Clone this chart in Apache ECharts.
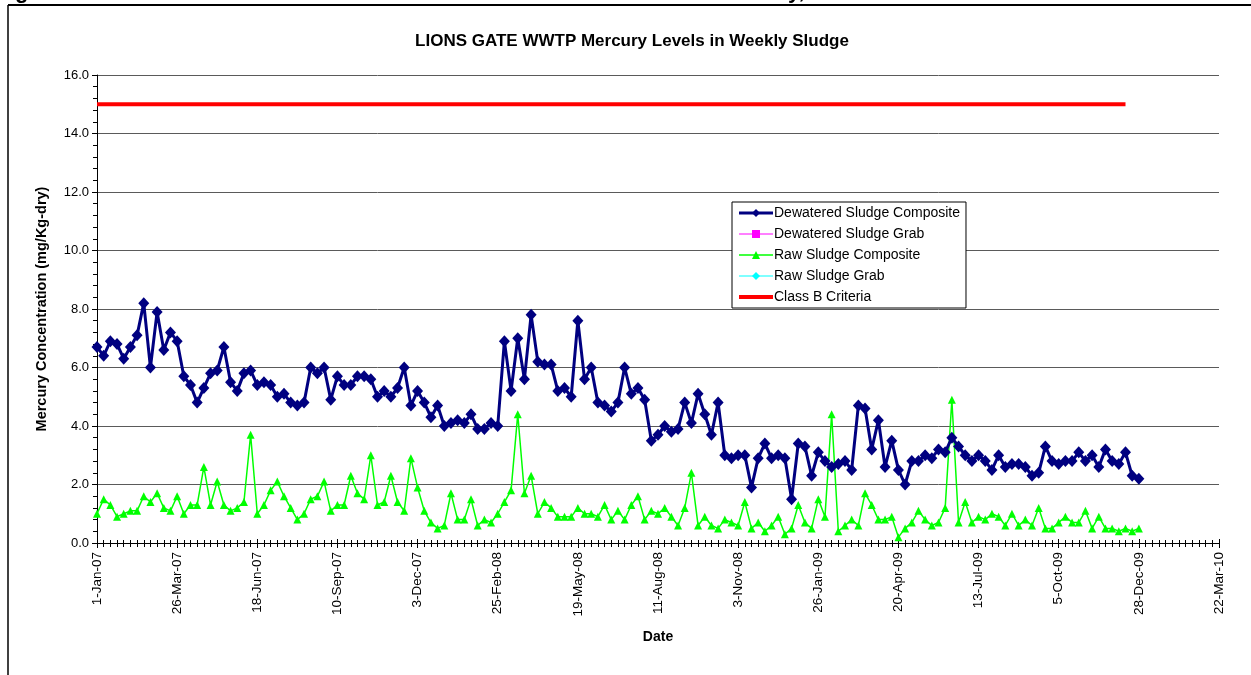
<!DOCTYPE html>
<html>
<head>
<meta charset="utf-8">
<script src="https://cdn.jsdelivr.net/npm/echarts@6/dist/echarts.min.js"></script>
<style>html,body{margin:0;padding:0;background:#fff;}#c{width:1251px;height:675px;}</style>
</head>
<body>
<div id="c"></div>
<script>
// Weekly samples starting 1-Jan-07 (one value per week)
var startDate = '2007-01-01';
var dewateredComposite = [6.7,6.4,6.9,6.8,6.3,6.7,7.1,8.2,6.0,7.9, 6.6,7.2,6.9,5.7,5.4,4.8,5.3,5.8,5.9,6.7,
  5.5,5.2,5.8,5.9,5.4,5.5,5.4,5.0,5.1,4.8, 4.7,4.8,6.0,5.8,6.0,4.9,5.7,5.4,5.4,5.7,
  5.7,5.6,5.0,5.2,5.0,5.3,6.0,4.7,5.2,4.8, 4.3,4.7,4.0,4.1,4.2,4.1,4.4,3.9,3.9,4.1,
  4.0,6.9,5.2,7.0,5.6,7.8,6.2,6.1,6.1,5.2, 5.3,5.0,7.6,5.6,6.0,4.8,4.7,4.5,4.8,6.0,
  5.1,5.3,4.9,3.5,3.7,4.0,3.8,3.9,4.8,4.1, 5.1,4.4,3.7,4.8,3.0,2.9,3.0,3.0,1.9,2.9,
  3.4,2.9,3.0,2.9,1.5,3.4,3.3,2.3,3.1,2.8, 2.6,2.7,2.8,2.5,4.7,4.6,3.2,4.2,2.6,3.5,
  2.5,2.0,2.8,2.8,3.0,2.9,3.2,3.1,3.6,3.3, 3.0,2.8,3.0,2.8,2.5,3.0,2.6,2.7,2.7,2.6,
  2.3,2.4,3.3,2.8,2.7,2.8,2.8,3.1,2.8,3.0, 2.6,3.2,2.8,2.7,3.1,2.3,2.2];
var rawComposite = [1.0,1.5,1.3,0.9,1.0,1.1,1.1,1.6,1.4,1.7, 1.2,1.1,1.6,1.0,1.3,1.3,2.6,1.3,2.1,1.3,
  1.1,1.2,1.4,3.7,1.0,1.3,1.8,2.1,1.6,1.2, 0.8,1.0,1.5,1.6,2.1,1.1,1.3,1.3,2.3,1.7,
  1.5,3.0,1.3,1.4,2.3,1.4,1.1,2.9,1.9,1.1, 0.7,0.5,0.6,1.7,0.8,0.8,1.5,0.6,0.8,0.7,
  1.0,1.4,1.8,4.4,1.7,2.3,1.0,1.4,1.2,0.9, 0.9,0.9,1.2,1.0,1.0,0.9,1.3,0.8,1.1,0.8,
  1.3,1.6,0.8,1.1,1.0,1.2,0.9,0.6,1.2,2.4, 0.6,0.9,0.6,0.5,0.8,0.7,0.6,1.4,0.5,0.7,
  0.4,0.6,0.9,0.3,0.5,1.3,0.7,0.5,1.5,0.9, 4.4,0.4,0.6,0.8,0.6,1.7,1.3,0.8,0.8,0.9,
  0.2,0.5,0.7,1.1,0.8,0.6,0.7,1.2,4.9,0.7, 1.4,0.7,0.9,0.8,1.0,0.9,0.6,1.0,0.6,0.8,
  0.6,1.2,0.5,0.5,0.7,0.9,0.7,0.7,1.1,0.5, 0.9,0.5,0.5,0.4,0.5,0.4,0.5];
var dewateredGrab = [];
var rawGrab = [];
var classBDates = ['2007-01-01', '2009-12-14'];
var classBValues = [15, 15];
var xTickStart = '2007-01-01', xTickEnd = '2010-03-22', xTickDays = 84;
var yTicks = [0, 2, 4, 6, 8, 10, 12, 14, 16];

var DAY = 86400000;
var t0 = Date.parse(startDate + 'T00:00:00Z');
function dayNum(s){ return (Date.parse(s + 'T00:00:00Z') - t0) / DAY; }
var MON = ['Jan','Feb','Mar','Apr','May','Jun','Jul','Aug','Sep','Oct','Nov','Dec'];
function fmt(v){
  var d = new Date(t0 + v * DAY);
  var y = d.getUTCFullYear() % 100;
  return d.getUTCDate() + '-' + MON[d.getUTCMonth()] + '-' + (y < 10 ? '0' + y : y);
}
function weekly(arr){ return arr.map(function(v, i){ return [i * 7, v]; }); }

var FONT = 'Liberation Sans, Arial, sans-serif';
var chart = echarts.init(document.getElementById('c'), null, {renderer: 'canvas'});
var xMin = dayNum(xTickStart), xMax = dayNum(xTickEnd);
var axisCommon = {
  type: 'value', min: xMin, max: xMax, interval: xTickDays,
  splitLine: {show: false}
};
chart.setOption({
  animation: false,
  backgroundColor: '#fff',
  textStyle: {fontFamily: FONT},
  grid: {left: 97, right: 32, top: 75, bottom: 132, containLabel: false},
  graphic: [
    {type: 'line', shape: {x1: 8, y1: 5, x2: 1251, y2: 5}, style: {stroke: '#000', lineWidth: 2}},
    {type: 'line', shape: {x1: 8, y1: 5, x2: 8, y2: 675}, style: {stroke: '#000', lineWidth: 1.5}},
    {type: 'text', left: 15, top: -19, style: {text: 'g', font: 'bold 22px ' + FONT, fill: '#000'}},
    {type: 'text', left: 788, top: -19, style: {text: 'y,', font: 'bold 22px ' + FONT, fill: '#000'}},
    {type: 'text', x: 632, y: 41, style: {text: 'LIONS GATE WWTP Mercury Levels in Weekly Sludge', font: 'bold 17px ' + FONT, fill: '#000', textAlign: 'center', textVerticalAlign: 'middle'}}
  ],
  legend: {
    orient: 'vertical', left: 732, top: 202,
    backgroundColor: '#fff', borderColor: '#000', borderWidth: 1,
    padding: [4, 6, 4, 5], itemGap: 7, itemWidth: 34, itemHeight: 10,
    textStyle: {fontFamily: FONT, fontSize: 14, color: '#000', padding: [0,0,0,-4]},
    data: [
      {name: 'Dewatered Sludge Composite', lineStyle: {width: 3}},
      {name: 'Dewatered Sludge Grab', lineStyle: {width: 1}},
      {name: 'Raw Sludge Composite', lineStyle: {width: 1.5}},
      {name: 'Raw Sludge Grab', lineStyle: {width: 1}},
      {name: 'Class B Criteria', lineStyle: {width: 4}, itemStyle: {opacity: 0}}
    ]
  },
  xAxis: [
    Object.assign({}, axisCommon, {
      name: 'Date', nameLocation: 'middle', nameGap: 87,
      nameTextStyle: {fontFamily: FONT, fontSize: 14, fontWeight: 'bold', color: '#000'},
      axisLine: {show: true, onZero: false, lineStyle: {color: '#000', width: 1}},
      axisTick: {show: true, length: 5, lineStyle: {color: '#000'}},
      minorTick: {show: true, splitNumber: 12, length: 4, lineStyle: {color: '#000'}},
      axisLabel: {rotate: 90, margin: 9, fontFamily: FONT, fontSize: 13.5, color: '#000', formatter: fmt, showMinLabel: true, showMaxLabel: true}
    }),
    Object.assign({}, axisCommon, {
      position: 'bottom',
      axisLine: {show: false},
      axisTick: {show: true, inside: true, length: 4, lineStyle: {color: '#000'}},
      minorTick: {show: true, splitNumber: 12, length: 3, lineStyle: {color: '#000'}},
      axisLabel: {show: false}
    })
  ],
  yAxis: {
    type: 'value', min: yTicks[0], max: yTicks[yTicks.length - 1], interval: yTicks[1] - yTicks[0],
    name: 'Mercury Concentration (mg/Kg-dry)', nameLocation: 'middle', nameGap: 48,
    nameTextStyle: {fontFamily: FONT, fontSize: 14.5, fontWeight: 'bold', color: '#000'},
    axisLine: {show: true, lineStyle: {color: '#000'}},
    axisTick: {show: true, length: 5, lineStyle: {color: '#000'}},
    minorTick: {show: true, splitNumber: 5, length: 4, lineStyle: {color: '#000'}},
    splitLine: {show: true, lineStyle: {color: '#5a5a5a', width: 1}},
    axisLabel: {fontFamily: FONT, fontSize: 13, color: '#000', margin: 8, formatter: function(v){ return v.toFixed(1); }}
  },
  series: [
    {name: 'Class B Criteria', type: 'line', data: classBDates.map(function(d, i){ return [dayNum(d), classBValues[i]]; }),
      symbol: 'none', lineStyle: {color: '#ff0000', width: 4}, itemStyle: {color: '#ff0000'}, z: 2},
    {name: 'Raw Sludge Composite', type: 'line', data: weekly(rawComposite),
      symbol: 'triangle', symbolSize: 8, showAllSymbol: true,
      lineStyle: {color: '#00ff00', width: 1.5}, itemStyle: {color: '#00ff00'}, z: 3},
    {name: 'Dewatered Sludge Composite', type: 'line', data: weekly(dewateredComposite),
      symbol: 'diamond', symbolSize: [11, 12], showAllSymbol: true,
      lineStyle: {color: '#000080', width: 3}, itemStyle: {color: '#000080'}, z: 4},
    {name: 'Dewatered Sludge Grab', type: 'line', data: weekly(dewateredGrab),
      symbol: 'rect', symbolSize: 7, lineStyle: {color: '#ff00ff', width: 1}, itemStyle: {color: '#ff00ff'}},
    {name: 'Raw Sludge Grab', type: 'line', data: weekly(rawGrab),
      symbol: 'diamond', symbolSize: 6, lineStyle: {color: '#00ffff', width: 1}, itemStyle: {color: '#00ffff'}}
  ]
});
</script>
</body>
</html>
